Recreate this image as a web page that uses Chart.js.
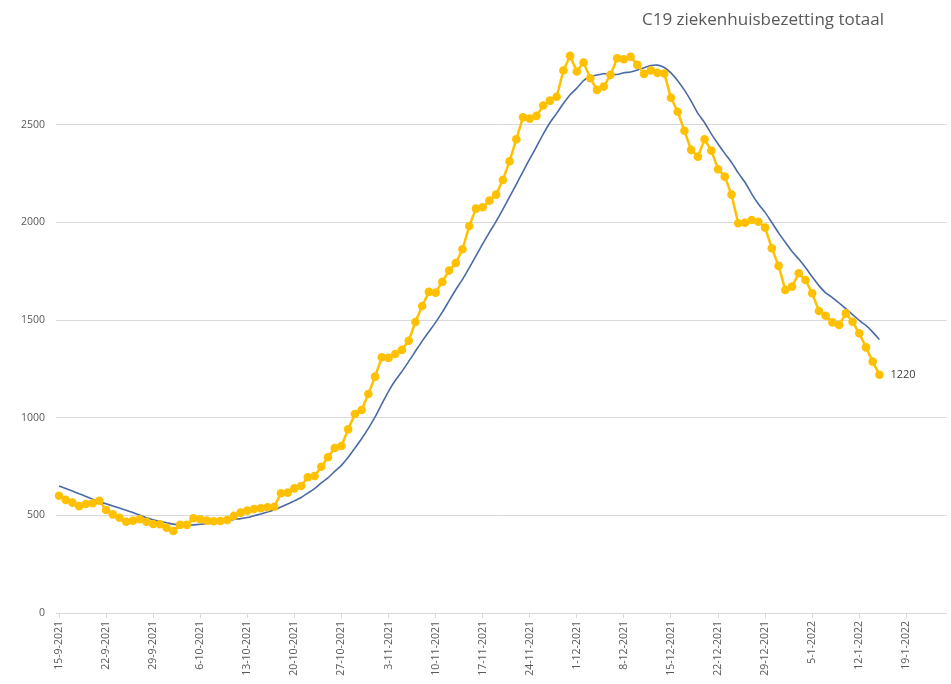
<!DOCTYPE html>
<html>
<head>
<meta charset="utf-8">
<script src="https://cdn.jsdelivr.net/npm/chart.js@4.4.1/dist/chart.umd.min.js"></script>
<style>
  html, body { margin: 0; padding: 0; background: #fff; }
  #wrap { position: relative; width: 951px; height: 684px; }
</style>
</head>
<body>
<div id="wrap"><canvas id="chart"></canvas></div>
<script>
const TITLE = 'C19 ziekenhuisbezetting totaal';
const START_DATE = new Date(2021, 8, 15);
const AXIS_DAYS = 133; // axis runs on past the last data point

// weekly tick labels on the date axis
const weekLabels = [
  '15-9-2021', '22-9-2021', '29-9-2021', '6-10-2021', '13-10-2021',
  '20-10-2021', '27-10-2021', '3-11-2021', '10-11-2021', '17-11-2021',
  '24-11-2021', '1-12-2021', '8-12-2021', '15-12-2021', '22-12-2021',
  '29-12-2021', '5-1-2022', '12-1-2022', '19-1-2022',
];

const yTicks = [0, 500, 1000, 1500, 2000, 2500];

// daily totaal, 15-9-2021 .. 15-1-2022
const bezetting = [
  600, 579, 565, 547, 558, 562, 575, 527, 505, 488,
  467, 473, 480, 467, 456, 454, 437, 420, 451, 451,
  485, 480, 473, 470, 471, 476, 497, 514, 524, 532,
  536, 541, 544, 613, 616, 638, 650, 695, 701, 749,
  797, 845, 855, 940, 1019, 1039, 1121, 1210, 1309, 1306,
  1326, 1347, 1394, 1490, 1572, 1644, 1640, 1695, 1753, 1792,
  1862, 1981, 2070, 2077, 2111, 2142, 2217, 2313, 2425, 2538,
  2531, 2545, 2598, 2623, 2643, 2777, 2852, 2772, 2818, 2738,
  2678, 2695, 2755, 2840, 2835, 2848, 2806, 2760, 2778, 2765,
  2762, 2638, 2566, 2469, 2371, 2336, 2425, 2367, 2272, 2234,
  2142, 1995, 1998, 2012, 2003, 1973, 1867, 1777, 1654, 1671,
  1739, 1705, 1637, 1546, 1522, 1488, 1475, 1534, 1491, 1432,
  1360, 1287, 1220,
];

// smoothed trend line (blue)
const trend = [
  650, 637, 624, 610, 597, 583, 569, 559, 548, 537,
  526, 514, 502, 487, 477, 469, 462, 455, 452, 448,
  451, 454, 457, 461, 469, 472, 479, 483, 489, 498,
  507, 517, 527, 543, 558, 574, 591, 614, 637, 666,
  692, 725, 756, 797, 844, 892, 945, 1004, 1070, 1135,
  1190, 1237, 1288, 1340, 1392, 1440, 1488, 1540, 1598, 1655,
  1708, 1767, 1828, 1890, 1949, 2005, 2066, 2130, 2194, 2260,
  2325, 2387, 2452, 2510, 2558, 2608, 2653, 2687, 2726, 2746,
  2754, 2761, 2758, 2757, 2766, 2770, 2780, 2791, 2803, 2805,
  2793, 2765, 2725, 2677, 2621, 2558, 2510, 2453, 2401, 2353,
  2307, 2253, 2205, 2146, 2094, 2051, 1999, 1946, 1898, 1851,
  1812, 1769, 1721, 1676, 1639, 1615, 1587, 1558, 1528, 1498,
  1472, 1438, 1400,
];

const dayLabels = [];
for (let i = 0; i < AXIS_DAYS; i++) {
  const d = new Date(START_DATE);
  d.setDate(d.getDate() + i);
  dayLabels.push(d.getDate() + '-' + (d.getMonth() + 1) + '-' + d.getFullYear());
}

const GRID = '#d9d9d9';
const TEXT = '#595959';

Chart.defaults.font.family = '"Open Sans", "Noto Sans", sans-serif';

const cornerTitle = {
  id: 'cornerTitle',
  afterDraw(chart) {
    const c = chart.ctx;
    c.save();
    c.font = '17px "Open Sans", sans-serif';
    c.fillStyle = TEXT;
    c.textAlign = 'center';
    c.textBaseline = 'middle';
    c.fillText(TITLE, 763, 20);
    c.restore();
  },
};

const lastValue = {
  id: 'lastValue',
  afterDatasetsDraw(chart) {
    const meta = chart.getDatasetMeta(0);
    const pt = meta.data[meta.data.length - 1];
    if (!pt) return;
    const c = chart.ctx;
    c.save();
    c.font = '11px "Open Sans", sans-serif';
    c.fillStyle = '#404040';
    c.textAlign = 'left';
    c.textBaseline = 'middle';
    c.fillText(String(bezetting[bezetting.length - 1]), pt.x + 11, pt.y);
    c.restore();
  },
};

new Chart(document.getElementById('chart').getContext('2d'), {
  type: 'line',
  data: {
    labels: dayLabels,
    datasets: [
      {
        label: 'Totaal',
        data: bezetting,
        borderColor: '#FFC000',
        backgroundColor: '#FFC000',
        borderWidth: 2.5,
        pointRadius: 4.3,
        pointBorderWidth: 0,
        pointBackgroundColor: '#FFC000',
        tension: 0,
      },
      {
        label: 'Trend',
        data: trend,
        borderColor: '#4a6aa6',
        borderWidth: 1.6,
        pointRadius: 0,
        tension: 0.2,
      },
    ],
  },
  options: {
    responsive: true,
    maintainAspectRatio: false,
    animation: false,
    events: [],
    layout: { padding: { top: 27, right: 0, left: 0, bottom: 0 } },
    plugins: {
      legend: { display: false },
      tooltip: { enabled: false },
      title: { display: false },
    },
    scales: {
      x: {
        type: 'category',
        offset: false,
        afterFit: (scale) => {
          scale.height = 71;
          scale.paddingLeft = 0;
          scale.paddingRight = 0;
        },
        border: { display: true, color: GRID, width: 1 },
        grid: {
          drawOnChartArea: false,
          drawTicks: true,
          tickLength: 5,
          color: (ctx) => (ctx.index % 7 === 0 ? GRID : 'rgba(0,0,0,0)'),
        },
        ticks: {
          autoSkip: false,
          maxRotation: 90,
          minRotation: 90,
          padding: 3,
          color: TEXT,
          font: { size: 10.5 },
          callback: (v, i) => (i % 7 === 0 ? weekLabels[i / 7] || '' : ''),
        },
      },
      y: {
        min: 0,
        max: 3000,
        afterFit: (scale) => {
          scale.width = 59;
          scale.paddingTop = 0;
          scale.paddingBottom = 0;
        },
        afterBuildTicks: (scale) => { scale.ticks = yTicks.map((v) => ({ value: v })); },
        border: { display: false },
        grid: { color: GRID, tickLength: 3, drawTicks: true },
        ticks: {
          color: TEXT,
          padding: 11,
          font: { size: 10.5 },
          callback: (v) => String(v),
        },
      },
    },
  },
  plugins: [cornerTitle, lastValue],
});
</script>
</body>
</html>
